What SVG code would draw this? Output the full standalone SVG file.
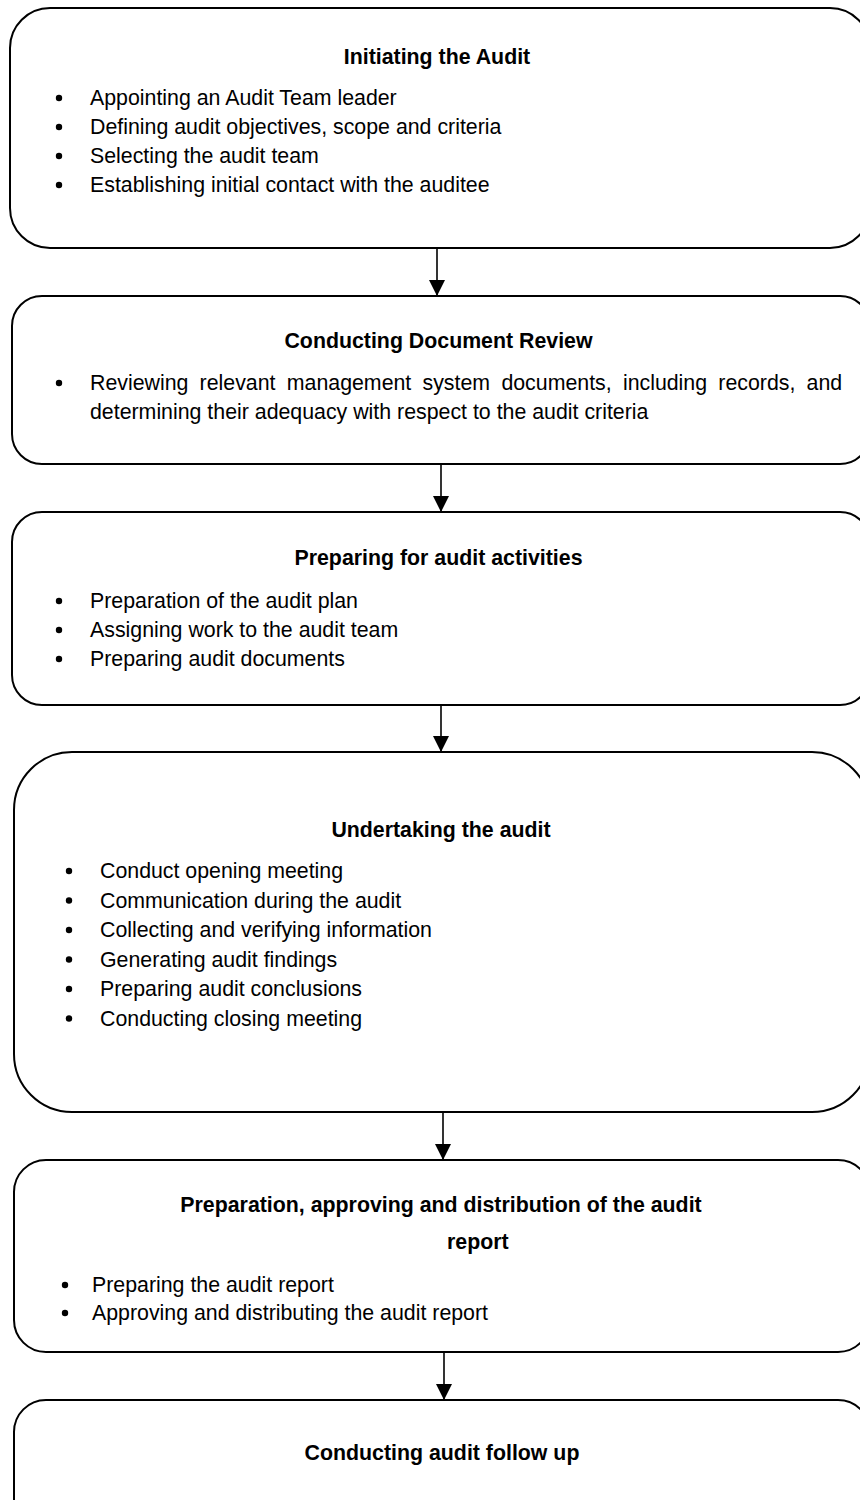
<svg xmlns="http://www.w3.org/2000/svg" width="860" height="1500" viewBox="0 0 860 1500">
<style>
.box{fill:#ffffff;stroke:#000000;stroke-width:2}
.t{font-family:"Liberation Sans",Arial,sans-serif;font-size:21.33px;fill:#000000}
.b{font-weight:bold}
.c{text-anchor:middle}
.dot{fill:#000000}
.conn{stroke:#000000;stroke-width:1.6;fill:none}
</style>
<defs>
<marker id="arr" markerUnits="userSpaceOnUse" markerWidth="16" markerHeight="16" viewBox="0 0 16 16" refX="16" refY="8" orient="auto">
<path d="M0,0 L16,8 L0,16 Z" fill="#000000"/>
</marker>
</defs>
<rect width="860" height="1500" fill="#ffffff"/>

<g id="connectors">
<line class="conn" x1="437" y1="248" x2="437" y2="296" marker-end="url(#arr)"/>
<line class="conn" x1="441" y1="464" x2="441" y2="512" marker-end="url(#arr)"/>
<line class="conn" x1="441" y1="705" x2="441" y2="752" marker-end="url(#arr)"/>
<line class="conn" x1="443" y1="1112" x2="443" y2="1160" marker-end="url(#arr)"/>
<line class="conn" x1="444" y1="1352" x2="444" y2="1400" marker-end="url(#arr)"/>
</g>

<g id="node1">
<rect class="box" x="10" y="8" width="860" height="240" rx="40" ry="40"/>
<text class="t b c" x="437" y="64">Initiating the Audit</text>
<circle class="dot" cx="59" cy="98" r="3.2"/>
<text class="t" x="90" y="105">Appointing an Audit Team leader</text>
<circle class="dot" cx="59" cy="127" r="3.2"/>
<text class="t" x="90" y="134">Defining audit objectives, scope and criteria</text>
<circle class="dot" cx="59" cy="156" r="3.2"/>
<text class="t" x="90" y="163">Selecting the audit team</text>
<circle class="dot" cx="59" cy="185" r="3.2"/>
<text class="t" x="90" y="192">Establishing initial contact with the auditee</text>
</g>

<g id="node2">
<rect class="box" x="12" y="296" width="858" height="168" rx="30" ry="30"/>
<text class="t b c" x="438.5" y="348">Conducting Document Review</text>
<circle class="dot" cx="59" cy="383" r="3.2"/>
<text class="t" y="390"><tspan x="90">Reviewing</tspan><tspan x="199.6">relevant</tspan><tspan x="286.8">management</tspan><tspan x="422.5">system</tspan><tspan x="501.4">documents,</tspan><tspan x="622.9">including</tspan><tspan x="718.3">records,</tspan><tspan x="806.6">and</tspan></text>
<text class="t" x="90" y="419">determining their adequacy with respect to the audit criteria</text>
</g>

<g id="node3">
<rect class="box" x="12" y="512" width="858" height="193" rx="30" ry="30"/>
<text class="t b c" x="438.5" y="565">Preparing for audit activities</text>
<circle class="dot" cx="59" cy="601" r="3.2"/>
<text class="t" x="90" y="608">Preparation of the audit plan</text>
<circle class="dot" cx="59" cy="630" r="3.2"/>
<text class="t" x="90" y="637">Assigning work to the audit team</text>
<circle class="dot" cx="59" cy="659" r="3.2"/>
<text class="t" x="90" y="666">Preparing audit documents</text>
</g>

<g id="node4">
<rect class="box" x="14" y="752" width="856" height="360" rx="58" ry="58"/>
<text class="t b c" x="441" y="837">Undertaking the audit</text>
<circle class="dot" cx="69" cy="871" r="3.2"/>
<text class="t" x="100" y="878">Conduct opening meeting</text>
<circle class="dot" cx="69" cy="900.5" r="3.2"/>
<text class="t" x="100" y="907.5">Communication during the audit</text>
<circle class="dot" cx="69" cy="930" r="3.2"/>
<text class="t" x="100" y="937">Collecting and verifying information</text>
<circle class="dot" cx="69" cy="959.5" r="3.2"/>
<text class="t" x="100" y="966.5">Generating audit findings</text>
<circle class="dot" cx="69" cy="989" r="3.2"/>
<text class="t" x="100" y="996">Preparing audit conclusions</text>
<circle class="dot" cx="69" cy="1018.5" r="3.2"/>
<text class="t" x="100" y="1025.5">Conducting closing meeting</text>
</g>

<g id="node5">
<rect class="box" x="14" y="1160" width="856" height="192" rx="32" ry="32"/>
<text class="t b c" x="441" y="1212">Preparation, approving and distribution of the audit</text>
<text class="t b" x="447" y="1249">report</text>
<circle class="dot" cx="65" cy="1285" r="3.2"/>
<text class="t" x="92" y="1292">Preparing the audit report</text>
<circle class="dot" cx="65" cy="1313" r="3.2"/>
<text class="t" x="92" y="1320">Approving and distributing the audit report</text>
</g>

<g id="node6">
<rect class="box" x="14" y="1400" width="856" height="140" rx="32" ry="32"/>
<text class="t b c" x="442" y="1460">Conducting audit follow up</text>
</g>
</svg>
